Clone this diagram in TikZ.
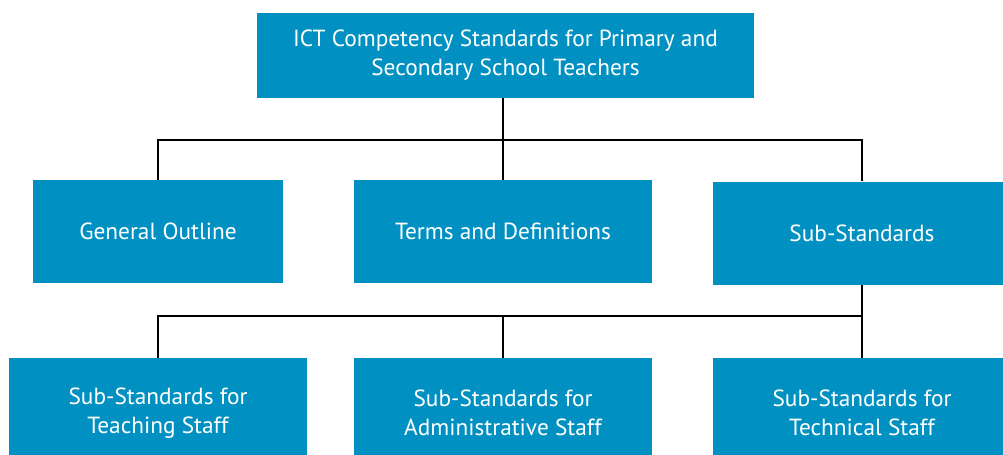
\documentclass[tikz,border=0pt]{standalone}
\usepackage{fontspec}
\setmainfont{PT Sans}
\usetikzlibrary{positioning}
\definecolor{boxblue}{RGB}{0,145,194}

\begin{document}
\begin{tikzpicture}[x=0.75pt,y=-0.75pt,
  box/.style={fill=boxblue,text=white,align=center,inner sep=0pt,
    font=\fontsize{17.5}{21.75}\selectfont},
  link/.style={line width=1.5pt}]
\useasboundingbox (0,0) rectangle (1003,454);

\node[box,minimum width=372.75pt,minimum height=63.75pt] (ict) at (505.5,55)
  {ICT Competency Standards for Primary and\\Secondary School Teachers};

\node[box,minimum width=187.5pt,minimum height=77.25pt] (outline) at (158,231.5) {General Outline};
\node[box,minimum width=223.5pt,minimum height=77.25pt] (terms) at (503,231.5) {Terms and Definitions};
\node[box,minimum width=223.5pt,minimum height=77.25pt] (subs) at (862,233) {Sub-Standards};

\node[box,minimum width=223.5pt,minimum height=82.5pt] (teach) at (158,413) {Sub-Standards for\\Teaching Staff};
\node[box,minimum width=223.5pt,minimum height=82.5pt] (admin) at (503,413) {Sub-Standards for\\Administrative Staff};
\node[box,minimum width=223.5pt,minimum height=82.5pt] (tech) at (862,413) {Sub-Standards for\\Technical Staff};

\coordinate (bus1) at (503,140);
\coordinate (bus2) at (862,316);

\draw[link] (bus1 |- ict.south) -- (bus1);
\draw[link] (bus1) -| (outline.north);
\draw[link] (bus1) -- (terms.north);
\draw[link] (bus1) -| (subs.north);

\draw[link] (subs.south) -- (bus2);
\draw[link] (bus2) -| (teach.north);
\draw[link] (admin.north |- bus2) -- (admin.north);
\draw[link] (bus2) -- (tech.north);
\end{tikzpicture}
\end{document}
